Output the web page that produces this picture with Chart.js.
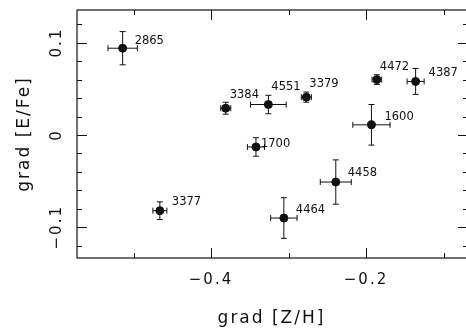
<!DOCTYPE html>
<html>
<head>
<meta charset="utf-8">
<script src="https://cdn.jsdelivr.net/npm/chart.js@4/dist/chart.umd.min.js"></script>
<style>
    html, body { margin: 0; padding: 0; background: #fff; }
    #wrap { width: 466px; height: 333px; }
</style>
</head>
<body>
<div id="wrap"><canvas id="grad"></canvas></div>
<script>
const galaxies = ['2865', '3384', '4551', '3379', '4472', '4387', '1600', '1700', '3377', '4458', '4464'];
const gradZH = [-0.514, -0.381, -0.326, -0.277, -0.186, -0.136, -0.193, -0.342, -0.466, -0.239, -0.306];
const gradEFe = [0.094, 0.029, 0.033, 0.041, 0.060, 0.058, 0.011, -0.013, -0.082, -0.051, -0.090];
const errZH = [0.019, 0.0065, 0.023, 0.0065, 0.0062, 0.011, 0.024, 0.011, 0.009, 0.020, 0.017];
const errEFe = [0.018, 0.0065, 0.010, 0.0055, 0.0052, 0.014, 0.022, 0.010, 0.0095, 0.024, 0.022];
const xLabels = [-0.4, -0.2];
const yLabels = [-0.1, 0, 0.1];

// where each name sits relative to its point, in pixels
const nameOffset = [[12, -7], [4, -13], [3, -17], [3, -13], [3, -13], [13, -8], [13, -8], [5, -3], [12, -9], [12, -9], [12, -8]];

const ink = '#111';
const tickFont = { family: 'DejaVu Sans', size: 15 };
const titleFont = { family: 'DejaVu Sans', size: 17 };

function isLabelled(value, list) {
    return list.some(v => Math.abs(v - value) < 1e-6);
}

function formatTick(value, list) {
    if (!isLabelled(value, list)) return '';
    const v = Math.round(value * 10) / 10;
    return v < 0 ? '\u2212' + Math.abs(v) : String(v);
}

const spacing = {
    id: 'spacing',
    beforeUpdate(chart) { chart.ctx.letterSpacing = '2px'; },
    beforeDraw(chart) { chart.ctx.letterSpacing = '2px'; }
};

const errorBars = {
    id: 'errorBars',
    beforeDatasetsDraw(chart) {
        const { ctx, scales: { x, y } } = chart;
        const cap = 3;
        ctx.save();
        ctx.strokeStyle = ink;
        ctx.lineWidth = 1;
        ctx.beginPath();
        gradZH.forEach((gx, i) => {
            const px = x.getPixelForValue(gx);
            const py = y.getPixelForValue(gradEFe[i]);
            const x0 = x.getPixelForValue(gx - errZH[i]);
            const x1 = x.getPixelForValue(gx + errZH[i]);
            const y0 = y.getPixelForValue(gradEFe[i] - errEFe[i]);
            const y1 = y.getPixelForValue(gradEFe[i] + errEFe[i]);
            ctx.moveTo(x0, py); ctx.lineTo(x1, py);
            ctx.moveTo(x0, py - cap); ctx.lineTo(x0, py + cap);
            ctx.moveTo(x1, py - cap); ctx.lineTo(x1, py + cap);
            ctx.moveTo(px, y0); ctx.lineTo(px, y1);
            ctx.moveTo(px - cap, y0); ctx.lineTo(px + cap, y0);
            ctx.moveTo(px - cap, y1); ctx.lineTo(px + cap, y1);
        });
        ctx.stroke();
        ctx.restore();
    }
};

const frame = {
    id: 'frame',
    afterDraw(chart) {
        const { ctx, chartArea: a, scales: { x, y } } = chart;
        // the right side of the box sits just past the canvas edge
        const right = a.right + 2;
        ctx.save();
        ctx.strokeStyle = ink;
        ctx.lineWidth = 1.2;
        ctx.strokeRect(a.left, a.top, right - a.left, a.bottom - a.top);
        ctx.lineWidth = 1;
        ctx.beginPath();
        x.ticks.forEach(t => {
            const px = Math.round(x.getPixelForValue(t.value)) + 0.5;
            const len = isLabelled(t.value, xLabels) ? 10 : 5;
            ctx.moveTo(px, a.bottom); ctx.lineTo(px, a.bottom - len);
            ctx.moveTo(px, a.top); ctx.lineTo(px, a.top + len);
        });
        y.ticks.forEach(t => {
            const py = Math.round(y.getPixelForValue(t.value)) + 0.5;
            const len = isLabelled(t.value, yLabels) ? 10 : 5;
            ctx.moveTo(a.left, py); ctx.lineTo(a.left + len, py);
            ctx.moveTo(right, py); ctx.lineTo(right - len, py);
        });
        ctx.stroke();

        // galaxy names beside the points
        ctx.letterSpacing = '0px';
        ctx.fillStyle = ink;
        ctx.font = '11.5px "DejaVu Sans"';
        ctx.textAlign = 'left';
        ctx.textBaseline = 'middle';
        galaxies.forEach((name, i) => {
            const px = x.getPixelForValue(gradZH[i]);
            const py = y.getPixelForValue(gradEFe[i]);
            ctx.fillText(name, px + nameOffset[i][0], py + nameOffset[i][1]);
        });
        ctx.restore();
    }
};

new Chart(document.getElementById('grad'), {
    type: 'scatter',
    data: {
        datasets: [{
            data: gradZH.map((v, i) => ({ x: v, y: gradEFe[i] })),
            backgroundColor: ink,
            borderColor: ink,
            pointRadius: 4,
            pointHoverRadius: 4
        }]
    },
    options: {
        responsive: true,
        maintainAspectRatio: false,
        animation: false,
        layout: { autoPadding: false, padding: { left: 0, top: 10, right: 0, bottom: 0 } },
        plugins: {
            legend: { display: false },
            tooltip: { enabled: false }
        },
        scales: {
            x: {
                min: -0.5729,
                max: -0.0710,
                grid: { display: false },
                border: { display: false },
                afterFit(scale) {
                    scale.height = 75;
                    scale.paddingLeft = 0;
                    scale.paddingRight = 0;
                },
                ticks: {
                    stepSize: 0.1,
                    includeBounds: false,
                    autoSkip: false,
                    maxRotation: 0,
                    padding: 5,
                    color: ink,
                    font: tickFont,
                    callback: v => formatTick(v, xLabels)
                },
                title: {
                    display: true,
                    text: 'grad [Z/H]',
                    color: ink,
                    font: titleFont,
                    padding: { top: 0, bottom: 4 }
                }
            },
            y: {
                min: -0.1333,
                max: 0.1354,
                grid: { display: false },
                border: { display: false },
                afterFit(scale) {
                    scale.width = 77;
                    scale.paddingTop = 0;
                    scale.paddingBottom = 0;
                },
                ticks: {
                    stepSize: 0.02,
                    includeBounds: false,
                    autoSkip: false,
                    minRotation: 90,
                    maxRotation: 90,
                    crossAlign: 'center',
                    padding: -10,
                    color: ink,
                    font: tickFont,
                    callback: v => formatTick(v, yLabels)
                },
                title: {
                    display: true,
                    text: 'grad [E/Fe]',
                    color: ink,
                    font: titleFont,
                    padding: { top: 14, bottom: 0 }
                }
            }
        }
    },
    plugins: [spacing, errorBars, frame]
});
</script>
</body>
</html>
